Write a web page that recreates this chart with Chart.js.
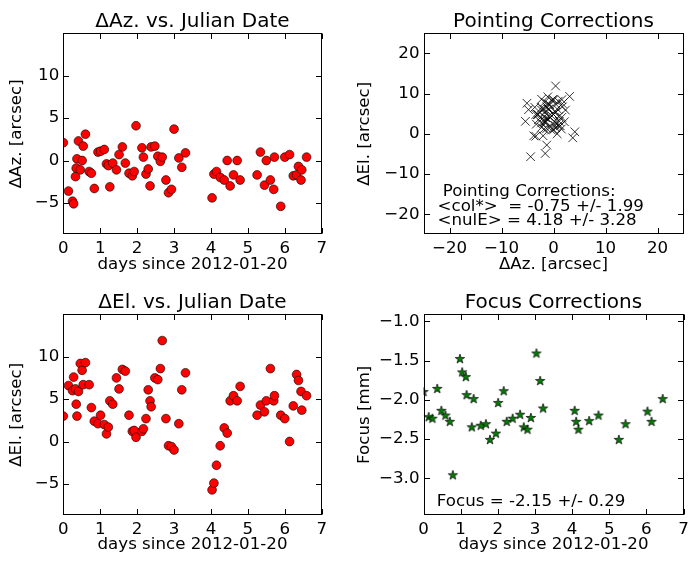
<!DOCTYPE html>
<html>
<head>
<meta charset="utf-8">
<script src="https://cdn.jsdelivr.net/npm/chart.js@4.4.1/dist/chart.umd.min.js"></script>
<style>
  body { margin: 0; background: #fff; width: 696px; height: 563px; position: relative; overflow: hidden; }
  canvas { position: absolute; }
</style>
</head>
<body>
<canvas id="azPlot" width="348" height="280" style="left:0;top:0"></canvas>
<canvas id="pointPlot" width="348" height="280" style="left:348px;top:0"></canvas>
<canvas id="elPlot" width="348" height="280" style="left:0;top:281px"></canvas>
<canvas id="focusPlot" width="348" height="280" style="left:348px;top:281px"></canvas>
<script>
// days since 2012-01-20 for the pointing scans
const days = [0.0, 0.14, 0.25, 0.28, 0.33, 0.35, 0.37, 0.41, 0.46, 0.51,
  0.54, 0.60, 0.70, 0.76, 0.84, 0.94, 1.01, 1.11, 1.17, 1.22,
  1.26, 1.34, 1.44, 1.51, 1.60, 1.68, 1.78, 1.87, 1.92, 1.97,
  2.13, 2.17, 2.24, 2.30, 2.35, 2.38, 2.48, 2.56, 2.63, 2.68,
  2.78, 2.85, 2.93, 3.00, 3.13, 3.21, 3.31, 4.03, 4.08, 4.15,
  4.25, 4.36, 4.44, 4.52, 4.61, 4.71, 4.79, 5.25, 5.34, 5.45,
  5.50, 5.61, 5.70, 5.72, 5.89, 6.00, 6.13, 6.23, 6.32, 6.37,
  6.44, 6.46, 6.59];
const dAz = [2.1, -3.6, -4.8, -5.1, -1.9, -0.9, 0.2, 2.3, -1.1, 0.0,
  1.7, 3.1, -1.3, -1.5, -3.3, 1.0, 1.1, 1.3, -0.4, -0.6,
  -3.1, -0.3, -1.1, 0.7, 1.6, -0.3, -1.5, -1.8, -1.3, 4.1,
  1.5, 0.4, -1.6, -1.0, -3.0, 1.6, 1.7, 0.5, -0.1, 0.4,
  -2.3, -3.8, -3.4, 3.7, 0.3, -0.8, 0.9, -4.4, -1.6, -1.3,
  -2.0, -2.3, 0.0, -3.0, -1.7, 0.0, -2.3, -1.7, 1.0, -2.9,
  0.0, -2.3, -3.4, 0.4, -5.4, 0.4, 0.7, -1.8, -1.7, -0.7,
  -2.3, -1.1, 0.4];
const dEl = [3.0, 6.6, 6.0, 7.6, 6.2, 4.4, 3.0, 5.9, 9.2, 8.4,
  6.7, 9.3, 6.7, 4.0, 2.4, 2.1, 3.1, 2.0, 0.9, 1.7,
  4.8, 4.4, 7.5, 6.2, 8.5, 8.3, 3.1, 1.2, 1.3, 0.5,
  1.2, 1.5, 2.7, 6.1, 4.8, 4.1, 7.5, 7.3, 8.6, 11.9,
  2.7, -0.5, -0.6, -1.0, 2.1, 6.1, 8.1, -5.7, -4.9, -2.8,
  -0.5, 1.6, 1.0, 4.8, 5.4, 4.8, 6.5, 3.1, 4.3, 3.5,
  4.8, 8.6, 4.8, 5.4, 3.1, 2.7, 0.0, 4.2, 7.9, 7.2,
  5.9, 3.7, 5.4];

// focus scans
const focusDays = [0.0, 0.14, 0.24, 0.37, 0.48, 0.59, 0.71, 0.79, 0.98, 1.04,
  1.14, 1.16, 1.30, 1.35, 1.54, 1.68, 1.79, 1.95, 2.01, 2.16,
  2.24, 2.40, 2.60, 2.70, 2.80, 2.89, 3.04, 3.14, 3.22, 4.07,
  4.11, 4.17, 4.46, 4.71, 5.26, 5.44, 6.03, 6.14, 6.44];
const focus = [-1.90, -2.22, -2.24, -1.86, -2.14, -2.20, -2.28, -2.96, -1.48, -1.65,
  -1.71, -1.94, -2.35, -1.99, -2.33, -2.31, -2.51, -2.43, -2.04, -1.89,
  -2.28, -2.24, -2.19, -2.35, -2.38, -2.23, -1.41, -1.76, -2.11, -2.14,
  -2.28, -2.38, -2.27, -2.20, -2.51, -2.31, -2.15, -2.28, -1.99];

// tick labels
const dayTicks = [0, 1, 2, 3, 4, 5, 6, 7];
const offsetTicks = [-5, 0, 5, 10];
const pointTicks = [-20, -10, 0, 10, 20];
const focusTicks = [-3.0, -2.5, -2.0, -1.5, -1.0];

const pointingText = ['Pointing Corrections:', '<col*>  = -0.75 +/- 1.99', '<nulE> = 4.18 +/- 3.28'];
const focusText = 'Focus = -2.15 +/- 0.29';

Chart.defaults.font.family = 'DejaVu Sans';
Chart.defaults.font.size = 16.67;
Chart.defaults.color = '#000';

const minus = s => String(s).replace('-', '\u2212');

// box round the plot area with inward ticks on all sides, like the old pylab look
const framePlugin = {
  id: 'frame',
  afterDatasetsDraw(chart) {
    const ctx = chart.ctx, a = chart.chartArea;
    const L = Math.round(a.left) + 0.5, R = Math.round(a.right) - 0.5;
    const T = Math.round(a.top) + 0.5, B = Math.round(a.bottom) - 0.5;
    ctx.save();
    ctx.strokeStyle = '#000';
    ctx.lineWidth = 1;
    ctx.strokeRect(L, T, R - L, B - T);
    ctx.beginPath();
    chart.scales.x.ticks.forEach(t => {
      const px = Math.round(chart.scales.x.getPixelForValue(t.value)) + 0.5;
      ctx.moveTo(px, B); ctx.lineTo(px, B - 5.5);
      ctx.moveTo(px, T); ctx.lineTo(px, T + 5.5);
    });
    chart.scales.y.ticks.forEach(t => {
      const py = Math.round(chart.scales.y.getPixelForValue(t.value)) + 0.5;
      ctx.moveTo(L, py); ctx.lineTo(L + 5.5, py);
      ctx.moveTo(R, py); ctx.lineTo(R - 5.5, py);
    });
    ctx.stroke();
    ctx.restore();
  }
};

// title centred over the axes and free text placed in data coordinates
const textPlugin = {
  id: 'panelText',
  afterDraw(chart, args, opts) {
    const ctx = chart.ctx, a = chart.chartArea;
    ctx.save();
    ctx.fillStyle = '#000';
    ctx.textBaseline = 'alphabetic';
    ctx.textAlign = 'center';
    ctx.font = '20px "DejaVu Sans"';
    ctx.fillText(opts.title, (a.left + a.right) / 2, a.top - 6.5);
    ctx.textAlign = 'left';
    ctx.font = '16.67px "DejaVu Sans"';
    (opts.notes || []).forEach(n => {
      ctx.fillText(n.text, chart.scales.x.getPixelForValue(n.x), chart.scales.y.getPixelForValue(n.y));
    });
    ctx.restore();
  }
};

function starImage() {
  const c = document.createElement('canvas');
  c.width = 14; c.height = 14;
  const g = c.getContext('2d');
  const R = 5.0, r = R * 0.382;
  g.beginPath();
  for (let i = 0; i < 10; i++) {
    const ang = -Math.PI / 2 + i * Math.PI / 5;
    const rad = i % 2 ? r : R;
    g.lineTo(7 + rad * Math.cos(ang), 7 + rad * Math.sin(ang));
  }
  g.closePath();
  g.fillStyle = '#008000';
  g.fill();
  g.lineWidth = 0.7;
  g.strokeStyle = '#000';
  g.stroke();
  return c;
}

function axis(opts) {
  return {
    type: 'linear',
    min: opts.min, max: opts.max,
    grid: { display: false, drawTicks: false },
    border: { display: false },
    title: { display: true, text: opts.title, padding: opts.titlePad },
    ticks: { padding: 4, autoSkip: false, maxRotation: 0, callback: opts.fmt || (v => minus(v)) },
    afterBuildTicks: s => { s.ticks = opts.ticks.map(v => ({ value: v })); },
    afterFit: s => { if (opts.width) s.width = opts.width; if (opts.height) s.height = opts.height; }
  };
}

function makePanel(id, cfg) {
  new Chart(document.getElementById(id), {
    type: 'scatter',
    data: { datasets: [cfg.dataset] },
    options: {
      responsive: false,
      animation: false,
      events: [],
      layout: { padding: { left: 0, top: 33.3, right: cfg.right, bottom: 0 } },
      plugins: {
        legend: { display: false },
        tooltip: { enabled: false },
        panelText: { title: cfg.title, notes: cfg.notes }
      },
      scales: { x: cfg.x, y: cfg.y }
    },
    plugins: [framePlugin, textPlugin]
  });
}

const redDots = {
  pointStyle: 'circle', pointRadius: 4.4, backgroundColor: '#ff0000',
  borderColor: '#000', borderWidth: 0.6, clip: 0
};

makePanel('azPlot', {
  title: '\u0394Az. vs. Julian Date',
  right: 26.3,
  dataset: Object.assign({ data: days.map((d, i) => ({ x: d, y: dAz[i] })) }, redDots),
  x: axis({ min: 0, max: 7, ticks: dayTicks, title: 'days since 2012-01-20', titlePad: { top: 0, bottom: 5.5 }, height: 45.7 }),
  y: axis({ min: -8.7, max: 15.0, ticks: offsetTicks, title: '\u0394Az. [arcsec]', titlePad: { top: 7, bottom: 0 }, width: 63.3 })
});

makePanel('elPlot', {
  title: '\u0394El. vs. Julian Date',
  right: 26.3,
  dataset: Object.assign({ data: days.map((d, i) => ({ x: d, y: dEl[i] })) }, redDots),
  x: axis({ min: 0, max: 7, ticks: dayTicks, title: 'days since 2012-01-20', titlePad: { top: 0, bottom: 6.8 }, height: 45.7 }),
  y: axis({ min: -8.7, max: 15.0, ticks: offsetTicks, title: '\u0394El. [arcsec]', titlePad: { top: 7, bottom: 0 }, width: 63.3 })
});

makePanel('pointPlot', {
  title: 'Pointing Corrections',
  right: 12.5,
  notes: [
    { text: pointingText[0], x: -21.3, y: -15.5 },
    { text: pointingText[1], x: -22.3, y: -19.1 },
    { text: pointingText[2], x: -22.3, y: -22.7 }
  ],
  dataset: {
    data: dAz.map((v, i) => ({ x: v, y: dEl[i] })),
    pointStyle: 'crossRot', pointRadius: 6.1, borderColor: '#000', borderWidth: 0.8, clip: 0
  },
  x: axis({ min: -25, max: 25, ticks: pointTicks, title: '\u0394Az. [arcsec]', titlePad: { top: 0, bottom: 5.5 }, height: 45.7 }),
  y: axis({ min: -25, max: 25, ticks: pointTicks, title: '\u0394El. [arcsec]', titlePad: { top: 7, bottom: 0 }, width: 75.5 })
});

makePanel('focusPlot', {
  title: 'Focus Corrections',
  right: 12.5,
  notes: [{ text: focusText, x: 0.36, y: -3.35 }],
  dataset: {
    data: focusDays.map((d, i) => ({ x: d, y: focus[i] })),
    pointStyle: starImage(), pointRadius: 5, clip: 0
  },
  x: axis({ min: 0, max: 7, ticks: dayTicks, title: 'days since 2012-01-20', titlePad: { top: 0, bottom: 6.8 }, height: 45.7 }),
  y: axis({ min: -3.47, max: -0.91, ticks: focusTicks, title: 'Focus [mm]', titlePad: { top: 7, bottom: 0 }, width: 75.5,
    fmt: v => minus(Number(v).toFixed(1)) })
});
</script>
</body>
</html>
